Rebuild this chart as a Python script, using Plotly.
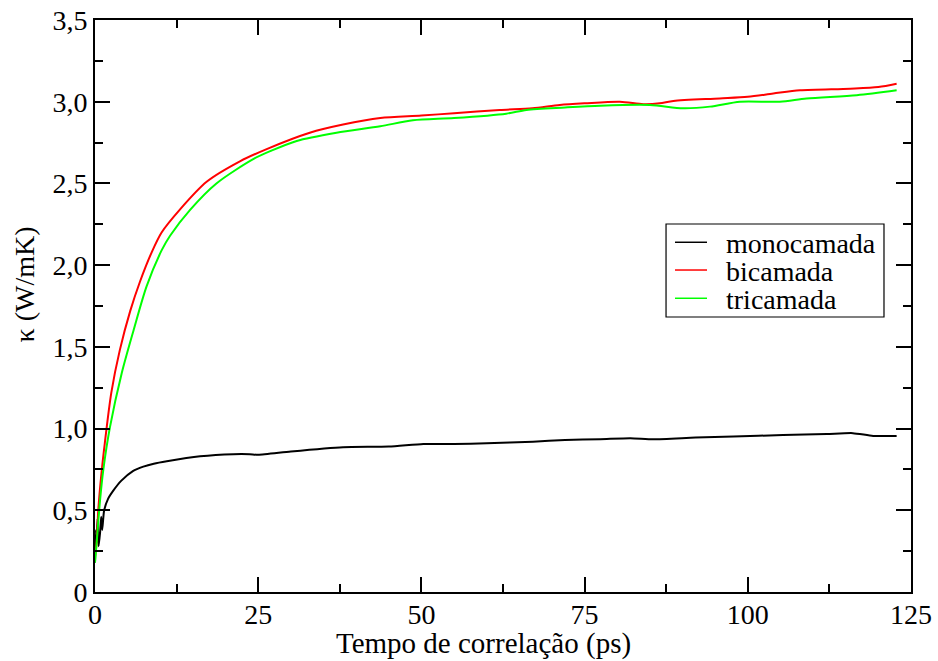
import plotly.graph_objects as go

mono_x = [0, 0.15, 0.25, 0.4, 0.55, 0.77, 0.95, 1.1, 1.4, 2.0, 2.8, 4.0, 5.8, 7.4, 9, 11, 16.1, 21.2, 23.7,
          25, 30, 38, 45, 50.3, 55, 60, 67.1, 72, 77.4, 82, 85.5, 92, 97.8, 105.4, 112.1, 116.1, 119.2, 122.8]
mono_y = [0.18, 0.38, 0.30, 0.45, 0.28, 0.36, 0.46, 0.38, 0.50, 0.57, 0.62, 0.68, 0.74, 0.767, 0.785, 0.80,
          0.83, 0.843, 0.843, 0.84, 0.86, 0.886, 0.89, 0.906, 0.905, 0.91, 0.92, 0.93, 0.935, 0.941, 0.935,
          0.945, 0.951, 0.961, 0.967, 0.972, 0.955, 0.955]

bi_x = [0, 0.25, 0.5, 1.0, 1.5, 2.5, 3.8, 5.4, 6.9, 8.7, 10.2, 13.0, 17.1, 22.2, 26.3, 32.9, 38, 43.7, 50,
        55, 62, 67, 71.2, 75, 80.4, 84, 86.5, 88.6, 95.7, 100, 103.9, 108, 115.7, 120, 122.8]
bi_y = [0.22, 0.30, 0.50, 0.73, 0.91, 1.22, 1.48, 1.72, 1.90, 2.08, 2.20, 2.34, 2.51, 2.635, 2.71, 2.81,
        2.86, 2.90, 2.915, 2.93, 2.95, 2.96, 2.98, 2.99, 3.00, 2.985, 2.99, 3.005, 3.02, 3.03, 3.05, 3.07,
        3.08, 3.09, 3.11]

tri_x = [0, 0.25, 0.77, 1.28, 2.3, 4.1, 5.9, 7.9, 10.2, 11.5, 14.6, 18.6, 24.3, 27, 30.9, 37, 43.7, 48.7,
         55, 63, 66.1, 72, 77.4, 85, 90.1, 94.2, 98.8, 104.9, 109, 116.7, 122.8]
tri_y = [0.18, 0.30, 0.56, 0.75, 1.01, 1.34, 1.60, 1.87, 2.09, 2.18, 2.34, 2.50, 2.65, 2.70, 2.76, 2.81,
         2.85, 2.886, 2.90, 2.927, 2.95, 2.965, 2.976, 2.98, 2.96, 2.97, 3.00, 3.00, 3.02, 3.04, 3.07]

series_names = ["monocamada", "bicamada", "tricamada"]
series_colors = ["#000000", "#ff0000", "#00ff00"]

x_tickvals = [0, 25, 50, 75, 100, 125]
x_ticktext = ["0", "25", "50", "75", "100", "125"]
y_tickvals = [0, 0.5, 1.0, 1.5, 2.0, 2.5, 3.0, 3.5]
y_ticktext = ["0", "0,5", "1,0", "1,5", "2,0", "2,5", "3,0", "3,5"]

FONT = "Liberation Serif, Times New Roman, serif"

fig = go.Figure()
for xs, ys, name, color, sm in zip([mono_x, bi_x, tri_x], [mono_y, bi_y, tri_y],
                                   series_names, series_colors, [0.6, 0.8, 0.8]):
    fig.add_trace(go.Scatter(x=xs, y=ys, mode="lines", name=name,
                             line=dict(color=color, width=2, shape="spline", smoothing=sm)))

axis_common = dict(
    showline=True, linecolor="black", linewidth=2, mirror="allticks",
    ticks="inside", ticklen=15, tickwidth=1.5, tickcolor="black",
    showgrid=False, zeroline=False, automargin=False,
    tickfont=dict(family=FONT, size=28, color="black"),
)

# legend box (xmgrace style: compact rows), positioned in paper coordinates
leg_box = dict(x0=0.6998, x1=0.9669, y0=0.4808, y1=0.6434)
leg_rows = [0.6114, 0.5629, 0.5135]
leg_line_x = (0.7108, 0.75)
leg_text_x = 0.7708

shapes = [dict(type="rect", xref="paper", yref="paper", line=dict(color="black", width=1.2),
               fillcolor="white", layer="above", **leg_box)]
annotations = [
    dict(text="Tempo de correlação (ps)", xref="paper", yref="paper", x=0.4755, y=-0.0892,
         xanchor="center", yanchor="middle", showarrow=False,
         font=dict(family=FONT, size=29, color="black")),
    dict(text="κ (W/mK)", xref="paper", yref="paper", x=-0.0858, y=0.5376, textangle=-90,
         xanchor="center", yanchor="middle", showarrow=False,
         font=dict(family=FONT, size=28, color="black")),
]
for name, color, ry in zip(series_names, series_colors, leg_rows):
    shapes.append(dict(type="line", xref="paper", yref="paper", x0=leg_line_x[0], x1=leg_line_x[1],
                       y0=ry, y1=ry, line=dict(color=color, width=1.5), layer="above"))
    annotations.append(dict(text=name, xref="paper", yref="paper", x=leg_text_x, y=ry - 0.002,
                            xanchor="left", yanchor="middle", showarrow=False,
                            font=dict(family=FONT, size=28, color="black")))

fig.update_layout(
    width=938, height=661,
    margin=dict(l=95, r=27, t=20, b=69),
    paper_bgcolor="white", plot_bgcolor="white",
    font=dict(family=FONT, color="black"),
    showlegend=False,
    xaxis=dict(range=[0, 125], tickvals=x_tickvals, ticktext=x_ticktext,
               ticklabelstandoff=-4,
               minor=dict(tickvals=[12.5, 37.5, 62.5, 87.5, 112.5], ticklen=8, tickwidth=1.5,
                          tickcolor="black", ticks="inside"),
               **axis_common),
    yaxis=dict(range=[0, 3.5], tickvals=y_tickvals, ticktext=y_ticktext,
               minor=dict(tickvals=[0.25, 0.75, 1.25, 1.75, 2.25, 2.75, 3.25], ticklen=8, tickwidth=1.5,
                          tickcolor="black", ticks="inside"),
               **axis_common),
    shapes=shapes,
    annotations=annotations,
)

fig.write_html("out.html")
